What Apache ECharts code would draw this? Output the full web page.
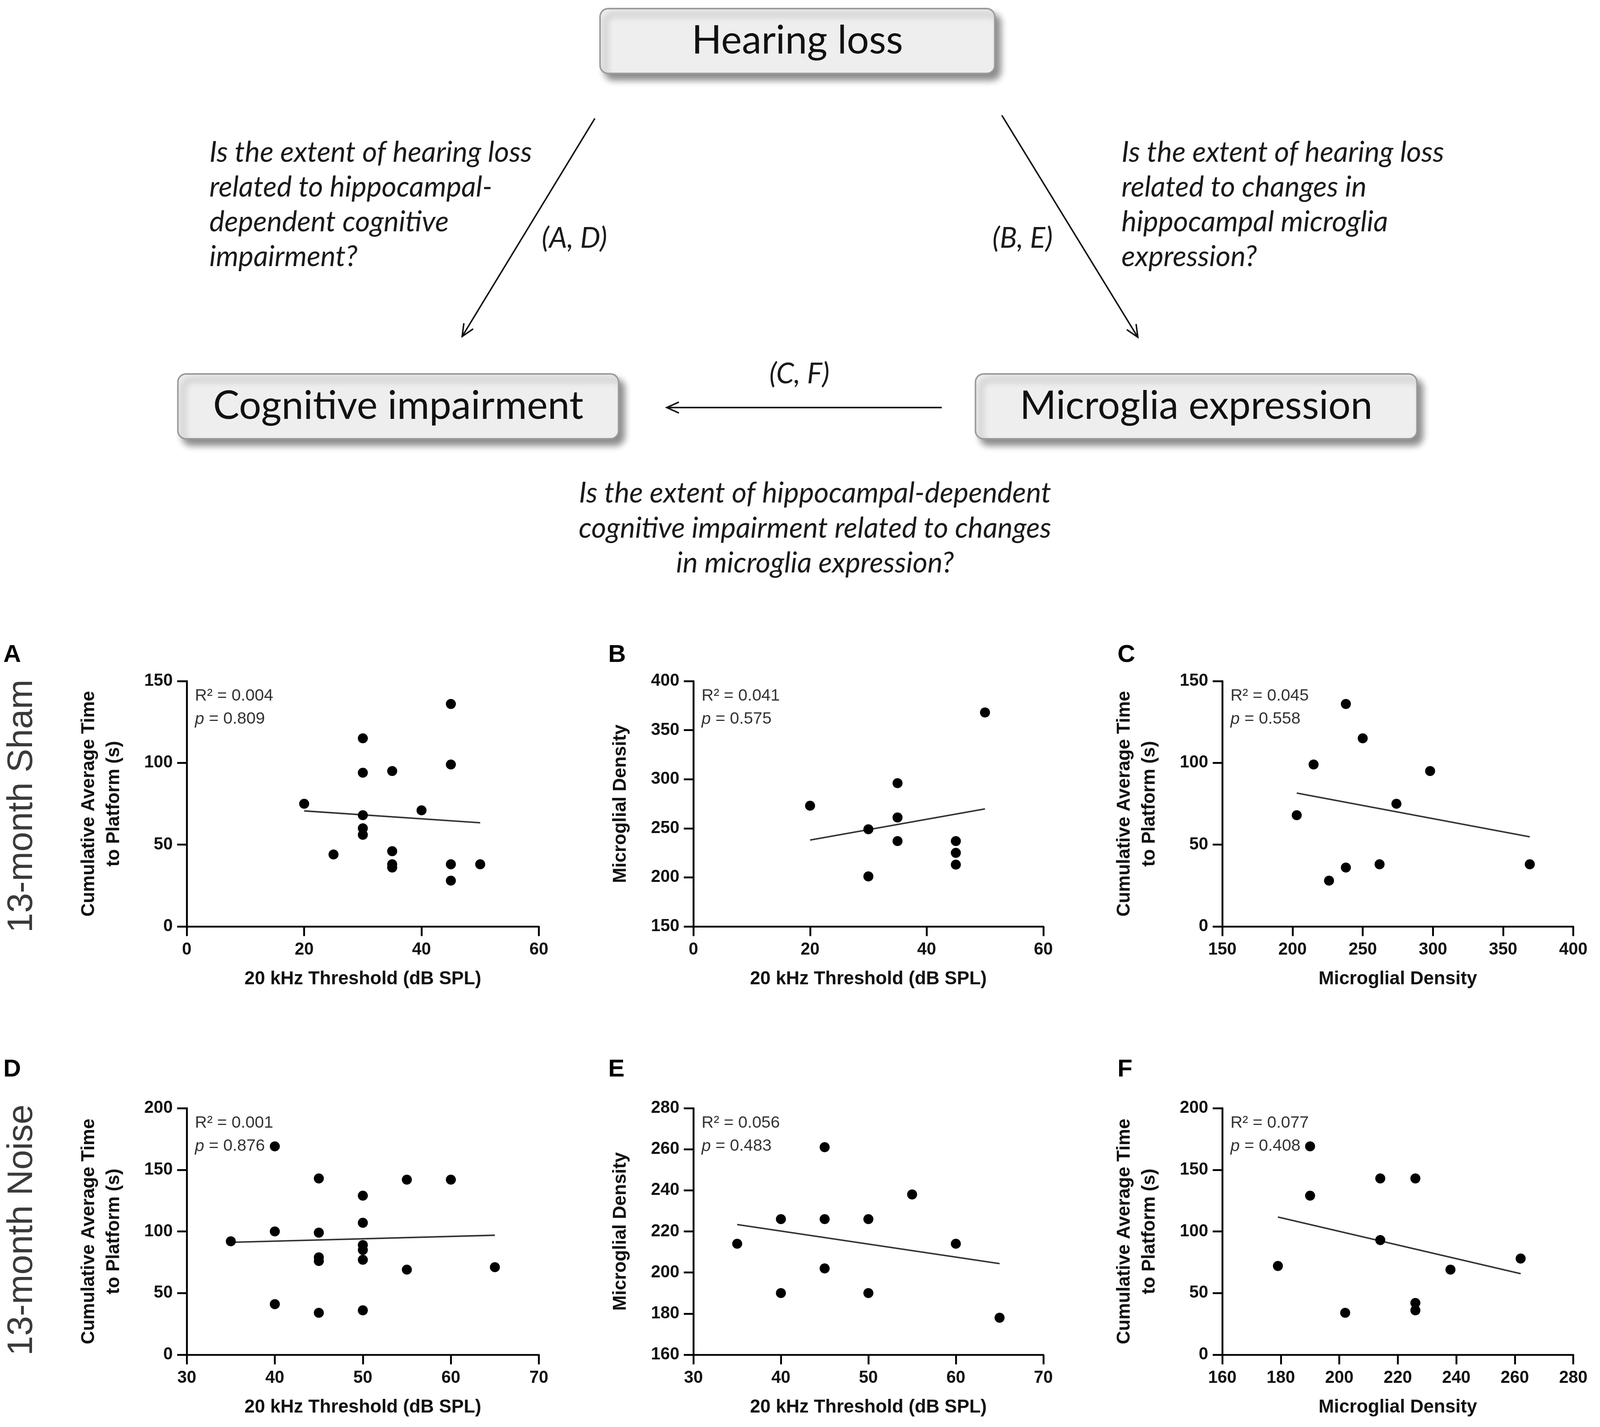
<!DOCTYPE html>
<html>
<head>
<meta charset="utf-8">
<script src="https://cdn.jsdelivr.net/npm/echarts@6/dist/echarts.min.js"></script>
<style>
  html, body { margin: 0; padding: 0; background: #fff; overflow: hidden; }
  #main { width: 100vw; height: 100vh; }
</style>
</head>
<body>
<div id="main"></div>
<script>
// ---- data ----
// A: 13-month sham, threshold vs time to platform
const thresholdA = [20, 25, 30, 30, 30, 30, 30, 35, 35, 35, 35, 40, 45, 45, 45, 45, 50];
const timeA = [75, 44, 115, 94, 68, 60, 56, 95, 46, 38, 36, 71, 136, 99, 38, 28, 38];
// B: sham, threshold vs microglial density
const thresholdB = [20, 30, 30, 35, 35, 35, 45, 45, 45, 50];
const densityB = [273, 249, 201, 296, 261, 237, 237, 225, 213, 368];
// C: sham, density vs time
const densityC = [203, 215, 226, 238, 238, 250, 262, 274, 298, 369];
const timeC = [68, 99, 28, 136, 36, 115, 38, 75, 95, 38];
// D: 13-month noise, threshold vs time
const thresholdD = [35, 40, 40, 40, 45, 45, 45, 45, 45, 50, 50, 50, 50, 50, 50, 55, 55, 60, 65];
const timeD = [92, 169, 100, 41, 143, 99, 79, 76, 34, 129, 107, 89, 85, 77, 36, 142, 69, 142, 71];
// E: noise, threshold vs density
const thresholdE = [35, 40, 40, 45, 45, 45, 50, 50, 55, 60, 65];
const densityE = [214, 226, 190, 261, 226, 202, 226, 190, 238, 214, 178];
// F: noise, density vs time
const densityF = [179, 190, 190, 202, 214, 214, 226, 226, 226, 238, 262];
const timeF = [72, 169, 129, 34, 143, 93, 143, 42, 36, 69, 78];

const statsR2 = ['0.004', '0.041', '0.045', '0.001', '0.056', '0.077'];
const statsP = ['0.809', '0.575', '0.558', '0.876', '0.483', '0.408'];
const panelLetters = ['A', 'B', 'C', 'D', 'E', 'F'];

const xTitleThreshold = '20 kHz Threshold (dB SPL)';
const xTitleDensity = 'Microglial Density';
const yTitleTime = 'Cumulative Average Time\nto Platform (s)';
const yTitleDensity = 'Microglial Density';

// axis ranges [min, max, interval]
const xRanges = [[0, 60, 20], [0, 60, 20], [150, 400, 50], [30, 70, 10], [30, 70, 10], [160, 280, 20]];
const yRanges = [[0, 150, 50], [150, 400, 50], [0, 150, 50], [0, 200, 50], [160, 280, 20], [0, 200, 50]];

const panelX = [thresholdA, thresholdB, densityC, thresholdD, thresholdE, densityF];
const panelY = [timeA, densityB, timeC, timeD, densityE, timeF];
const panelXName = [xTitleThreshold, xTitleThreshold, xTitleDensity, xTitleThreshold, xTitleThreshold, xTitleDensity];
const panelYName = [yTitleTime, yTitleDensity, yTitleTime, yTitleTime, yTitleDensity, yTitleTime];

// ---- layout (designed on a 4317 x 3652 sheet, scaled to the real viewport) ----
const dom = document.getElementById('main');
const kx = dom.clientWidth / 4317, ky = dom.clientHeight / 3652, k = Math.min(kx, ky);
const X = v => v * kx, Y = v => v * ky, F = v => v * k;

const colLeft = [504, 1871, 3298];
const colWidth = [950, 944, 947];
const rowTop = [1743, 2836];
const rowHeight = [628, 631];
const FONT = "'Liberation Sans', Arial, sans-serif";
const DIAG_FONT = "Lato, 'Open Sans', sans-serif";

// least squares line between the smallest and largest x
function fitLine(xs, ys) {
  const n = xs.length;
  const mx = xs.reduce((a, b) => a + b, 0) / n;
  const my = ys.reduce((a, b) => a + b, 0) / n;
  let sxy = 0, sxx = 0;
  for (let i = 0; i < n; i++) {
    sxy += (xs[i] - mx) * (ys[i] - my);
    sxx += (xs[i] - mx) * (xs[i] - mx);
  }
  const b = sxy / sxx;
  const a = my - b * mx;
  const x0 = Math.min(...xs), x1 = Math.max(...xs);
  return [[x0, a + b * x0], [x1, a + b * x1]];
}

const grids = [], xAxes = [], yAxes = [], series = [], graphics = [];

for (let i = 0; i < 6; i++) {
  const col = i % 3, row = Math.floor(i / 3);
  const left = colLeft[col], top = rowTop[row];
  grids.push({ left: X(left), top: Y(top), width: X(colWidth[col]), height: Y(rowHeight[row]), containLabel: false });
  const axisCommon = {
    gridIndex: i,
    type: 'value',
    splitLine: { show: false },
    axisLine: { show: true, onZero: false, lineStyle: { color: '#000', width: F(5) } },
    axisTick: { show: true, length: F(26), lineStyle: { color: '#000', width: F(5) } },
    nameLocation: 'middle',
    nameTextStyle: { fontFamily: FONT, fontWeight: 'bold', fontSize: F(50), color: '#111', lineHeight: F(68) }
  };
  xAxes.push(Object.assign({}, axisCommon, {
    min: xRanges[i][0], max: xRanges[i][1], interval: xRanges[i][2],
    name: panelXName[i], nameGap: F(108),
    axisLabel: { margin: F(40), fontFamily: FONT, fontWeight: 'bold', fontSize: F(46), color: '#111' }
  }));
  yAxes.push(Object.assign({}, axisCommon, {
    min: yRanges[i][0], max: yRanges[i][1], interval: yRanges[i][2],
    name: panelYName[i], nameGap: F(162),
    axisLabel: { margin: F(38), fontFamily: FONT, fontWeight: 'bold', fontSize: F(46), color: '#111' }
  }));
  series.push({
    type: 'scatter', xAxisIndex: i, yAxisIndex: i,
    data: panelX[i].map((x, j) => [x, panelY[i][j]]),
    symbolSize: F(27), itemStyle: { color: '#000', opacity: 1 }, z: 3
  });
  series.push({
    type: 'line', xAxisIndex: i, yAxisIndex: i,
    data: fitLine(panelX[i], panelY[i]),
    symbol: 'none', lineStyle: { color: '#333', width: F(4) }, z: 2
  });
  // stats text
  graphics.push({
    type: 'text', x: X(left + 22), y: Y(top + 8),
    style: {
      text: '{n|R² = ' + statsR2[i] + '}\n{i|p}{n| = ' + statsP[i] + '}',
      fill: '#333',
      rich: {
        n: { fontFamily: FONT, fontSize: F(45), color: '#333', lineHeight: F(63) },
        i: { fontFamily: FONT, fontSize: F(45), fontStyle: 'italic', color: '#333', lineHeight: F(63) }
      }
    }
  });
  // panel letter
  graphics.push({
    type: 'text', x: X([9, 1641, 3015][col]), y: Y([1645, 2706][row]),
    style: { text: panelLetters[i], fontFamily: FONT, fontWeight: 'bold', fontSize: F(66), fill: '#000' }
  });
}

// row labels
[['13-month Sham', 2063], ['13-month Noise', 3148]].forEach(function (r) {
  graphics.push({
    type: 'text', x: X(60), y: Y(r[1]), rotation: Math.PI / 2,
    style: { text: r[0], fontFamily: "'Liberation Sans Narrow', 'Liberation Sans', Arial", fontSize: F(96),
      fill: '#3a3a3a', align: 'center', verticalAlign: 'middle' }
  });
});

// ---- concept diagram ----
function box(x, y, w, h, label) {
  graphics.push({
    type: 'rect', shape: { x: X(x), y: Y(y), width: X(w), height: Y(h), r: F(22) },
    style: { fill: '#eeeeee', stroke: '#9a9a9a', lineWidth: F(4),
      shadowBlur: F(18), shadowOffsetX: F(14), shadowOffsetY: F(16), shadowColor: 'rgba(0,0,0,0.45)' }
  });
  graphics.push({
    type: 'text', x: X(x + w / 2), y: Y(y + h / 2),
    style: { text: label, fontFamily: DIAG_FONT, fontSize: F(106), fill: '#111', align: 'center', verticalAlign: 'middle' }
  });
}
function arrow(x1, y1, x2, y2) {
  x1 = X(x1); y1 = Y(y1); x2 = X(x2); y2 = Y(y2);
  const ang = Math.atan2(y2 - y1, x2 - x1), L = F(36), spread = 0.42;
  graphics.push({ type: 'line', shape: { x1: x1, y1: y1, x2: x2, y2: y2 }, style: { stroke: '#111', lineWidth: F(4) } });
  graphics.push({
    type: 'polyline',
    shape: { points: [
      [x2 - L * Math.cos(ang - spread), y2 - L * Math.sin(ang - spread)],
      [x2, y2],
      [x2 - L * Math.cos(ang + spread), y2 - L * Math.sin(ang + spread)]
    ] },
    style: { stroke: '#111', lineWidth: F(4), fill: null }
  });
}
function italicText(x, y, text, align) {
  graphics.push({
    type: 'text', x: X(x), y: Y(y),
    style: { text: text, fontFamily: DIAG_FONT, fontStyle: 'italic', fontSize: F(77), lineHeight: F(94),
      fill: '#1a1a1a', align: align, verticalAlign: 'middle' }
  });
}

box(1619, 22, 1065, 166, 'Hearing loss');
box(480, 957, 1189, 166, 'Cognitive impairment');
box(2632, 957, 1191, 166, 'Microglia expression');

arrow(1605, 303, 1247, 861);
arrow(2703, 295, 3070, 863);
arrow(2541, 1043, 1799, 1043);

italicText(565, 524, 'Is the extent of hearing loss\nrelated to hippocampal-\ndependent cognitive\nimpairment?', 'left');
italicText(3026, 524, 'Is the extent of hearing loss\nrelated to changes in\nhippocampal microglia\nexpression?', 'left');
italicText(2199, 1352, 'Is the extent of hippocampal-dependent\ncognitive impairment related to changes\nin microglia expression?', 'center');
italicText(1550, 610, '(A, D)', 'center');
italicText(2759, 610, '(B, E)', 'center');
italicText(2157, 957, '(C, F)', 'center');

const chart = echarts.init(dom);
chart.setOption({
  animation: false,
  backgroundColor: '#fff',
  grid: grids,
  xAxis: xAxes,
  yAxis: yAxes,
  series: series,
  graphic: graphics
});
</script>
</body>
</html>
